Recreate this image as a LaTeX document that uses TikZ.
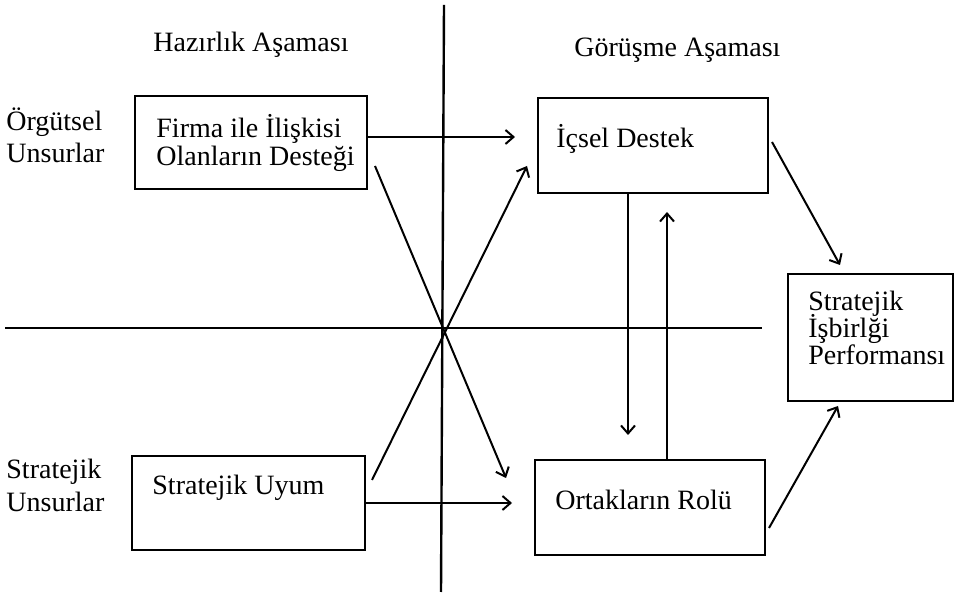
\documentclass[tikz,border=0pt]{standalone}
\usepackage{fontspec}
\setmainfont{Liberation Serif}
\usetikzlibrary{arrows.meta,fit}
\begin{document}
\begin{tikzpicture}[x=0.5pt,y=-0.5pt,
  box/.style={draw,line width=1.4pt,inner sep=0pt},
  lbl/.style={anchor=base west,inner sep=0pt,font=\fontsize{14}{15}\selectfont},
  clbl/.style={anchor=base,inner sep=0pt,font=\fontsize{14}{15}\selectfont},
  conn/.style={line width=1pt,-{Straight Barb[length=4pt,width=7pt,line width=1pt]}},
  axisline/.style={line width=1.2pt}]
\useasboundingbox (0,0) rectangle (958,597);
% axes
\coordinate (vtop) at (444,5);
\coordinate (vbot) at (441,592);
\coordinate (hleft) at (5,328);
\coordinate (hright) at (762,328);
\draw[axisline] (vtop) -- (vbot);
\draw[axisline] (hleft) -- (hright);
% boxes
\coordinate (b1nw) at (135,96);  \coordinate (b1se) at (367,189);
\coordinate (b2nw) at (538,98);  \coordinate (b2se) at (768,193);
\coordinate (b3nw) at (535,460); \coordinate (b3se) at (765,555);
\coordinate (b4nw) at (788,274); \coordinate (b4se) at (953,401);
\coordinate (b5nw) at (132,456); \coordinate (b5se) at (365,550);
\node[box,fit=(b1nw)(b1se)] (b1) {};
\node[box,fit=(b2nw)(b2se)] (b2) {};
\node[box,fit=(b3nw)(b3se)] (b3) {};
\node[box,fit=(b4nw)(b4se)] (b4) {};
\node[box,fit=(b5nw)(b5se)] (b5) {};
% headings
\node[clbl] (h1) at (251,52) {Hazırlık Aşaması};
\node[lbl] (h2) at (574,57) {Görüşme Aşaması};
\node[lbl] (r1a) at (6,131) {Örgütsel};
\node[lbl] (r1b) at (6,163) {Unsurlar};
\node[lbl] (r2a) at (6,479) {Stratejik};
\node[lbl] (r2b) at (6,512) {Unsurlar};
% box texts
\node[lbl] (t1a) at (156,138) {Firma ile İlişkisi};
\node[lbl] (t1b) at (156,166) {Olanların Desteği};
\node[lbl] (t2) at (556,148) {İçsel Destek};
\node[lbl] (t3) at (555,510) {Ortakların Rolü};
\node[lbl] (t5) at (152,495) {Stratejik Uyum};
\node[lbl] (t4a) at (808,311) {Stratejik};
\node[lbl] (t4b) at (808,338) {İşbirlği};
\node[lbl] (t4c) at (808,365) {Performansı};
% connector end points
\coordinate (a2s) at (375,166);
\coordinate (a2e) at (506,478);
\coordinate (a3s) at (372,480);
\coordinate (a3e) at (527,166);
\coordinate (a1e) at (515,137);
\coordinate (a4e) at (512,503);
\coordinate (a5e) at (628,435);
\coordinate (a6e) at (667,212);
\coordinate (a7s) at (772,142);
\coordinate (a7e) at (840,265);
\coordinate (a8s) at (769,528);
\coordinate (a8e) at (838,406);
% connectors
\draw[conn] (b1.east |- a1e) -- (a1e);
\draw[conn] (a2s) -- (a2e);
\draw[conn] (a3s) -- (a3e);
\draw[conn] (b5.east |- a4e) -- (a4e);
\draw[conn] (b2.south -| a5e) -- (a5e);
\draw[conn] (b3.north -| a6e) -- (a6e);
\draw[conn] (a7s) -- (a7e);
\draw[conn] (a8s) -- (a8e);
\end{tikzpicture}
\end{document}
